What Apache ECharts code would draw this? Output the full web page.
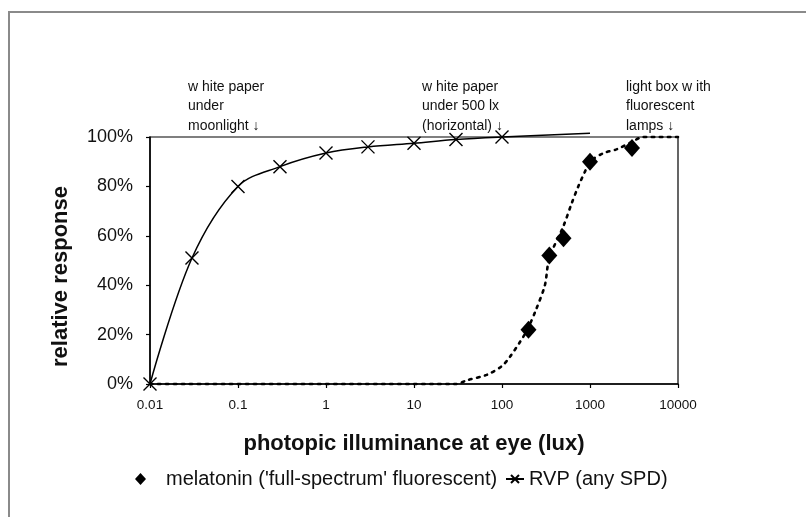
<!DOCTYPE html>
<html>
<head>
<meta charset="utf-8">
<script src="https://cdn.jsdelivr.net/npm/echarts@6/dist/echarts.min.js"></script>
<style>
html,body{margin:0;padding:0;background:#fff;}
#chart{width:806px;height:517px;}
</style>
</head>
<body>
<div id="chart"></div>
<script>
// ---- data ----
const xTickLabels = ['0.01', '0.1', '1', '10', '100', '1000', '10000'];
const yTickLabels = ['0%', '20%', '40%', '60%', '80%', '100%'];

const rvpLux = [0.01, 0.03, 0.1, 0.3, 1, 3, 10, 30, 100];
const rvpResponse = [0, 51, 80, 88, 93.5, 96, 97.5, 99, 100];
const rvpTailLux = [1000];
const rvpTailResponse = [101.5];

const melatoninLux = [200, 345, 500, 1000, 3000];
const melatoninResponse = [22, 52, 59, 90, 95.5];

const melatoninFitLux = [0.01, 30, 40, 67, 100, 123, 160, 194, 243, 307, 345, 500, 617, 736, 877, 1000, 1413, 2000, 3000, 3980, 10000];
const melatoninFitResponse = [0, 0, 1.5, 3.7, 7.3, 11, 17, 22, 30, 40, 51, 64, 73, 80, 86, 90, 93.4, 95, 98, 100, 100];

const annotations = [
  {lux: 0.01, lines: ['w hite paper', 'under', 'moonlight \u2193']},
  {lux: 10, lines: ['w hite paper', 'under 500 lx', '(horizontal) \u2193']},
  {lux: 1000, lines: ['light box w ith', 'fluorescent', 'lamps \u2193']}
];

const seriesNames = {
  melatonin: "melatonin ('full-spectrum' fluorescent)",
  rvp: 'RVP (any SPD)'
};
const xAxisTitle = 'photopic illuminance at eye (lux)';
const yAxisTitle = 'relative response';

// ---- chart ----
const FONT = 'Arial, "Liberation Sans", sans-serif';
const chart = echarts.init(document.getElementById('chart'), null, {renderer: 'canvas'});

const crossPath = 'path://M0,0L10,10M10,0L0,10';

const rvpData = rvpLux.map((x, i) => [x, rvpResponse[i]])
  .concat(rvpTailLux.map((x, i) => ({value: [x, rvpTailResponse[i]], symbol: 'none'})));

const annX = [188, 422, 626];

const option = {
  backgroundColor: '#fff',
  animation: false,
  grid: {left: 150, right: 128, top: 137, bottom: 133, show: true, borderColor: '#000', borderWidth: 1.2, backgroundColor: 'transparent'},
  xAxis: {
    type: 'log', logBase: 10, min: 0.01, max: 10000,
    name: xAxisTitle, nameLocation: 'middle', nameGap: 49,
    nameTextStyle: {fontFamily: FONT, fontSize: 22, fontWeight: 'bold', color: '#111'},
    axisLine: {show: true, onZero: false, lineStyle: {color: '#000', width: 1.5}},
    axisTick: {show: true, inside: false, length: 4, lineStyle: {color: '#000', width: 1.2}},
    axisLabel: {margin: 14, fontFamily: FONT, fontSize: 13.5, color: '#111',
      formatter: (v) => { const i = Math.round(Math.log10(v) + 2); return xTickLabels[i] !== undefined ? xTickLabels[i] : ''; }},
    splitLine: {show: false},
    minorTick: {show: false}
  },
  yAxis: {
    type: 'value', min: 0, max: 100, interval: 20,
    name: yAxisTitle, nameLocation: 'middle', nameGap: 78, nameRotate: 90,
    nameTextStyle: {fontFamily: FONT, fontSize: 22, fontWeight: 'bold', color: '#111', padding: [0, 32, 0, 0]},
    axisLine: {show: true, lineStyle: {color: '#000', width: 1.5}},
    axisTick: {show: true, inside: false, length: 4, lineStyle: {color: '#000', width: 1.2}},
    axisLabel: {margin: 17, fontFamily: FONT, fontSize: 18, color: '#111',
      formatter: (v) => yTickLabels[Math.round(v / 20)]},
    splitLine: {show: false}
  },
  legend: [
    {
      data: [{name: seriesNames.melatonin, icon: 'diamond'}], left: 130, top: 464, orient: 'horizontal',
      itemWidth: 11, itemHeight: 12, itemGap: 0,
      textStyle: {fontFamily: FONT, fontSize: 20, color: '#111', padding: [0, 0, 0, 15]}
    },
    {
      data: [seriesNames.rvp], left: 500, top: 464, orient: 'horizontal',
      itemWidth: 18, itemHeight: 10, itemGap: 0,
      textStyle: {fontFamily: FONT, fontSize: 20, color: '#111'}
    }
  ],
  graphic: [
    {type: 'rect', silent: true, z: -10, shape: {x: 9, y: 12, width: 1200, height: 1200},
      style: {fill: 'none', stroke: '#8a8a8a', lineWidth: 2}}
  ].concat(annotations.map((a, i) => ({
    type: 'text', left: annX[i], top: 77, silent: true,
    style: {text: a.lines.join('\n'), font: '14px ' + FONT, fill: '#111', lineHeight: 19.5}
  }))),
  series: [
    {
      name: 'melatonin fit', type: 'line', smooth: 0.3, showSymbol: false, symbol: 'none',
      clip: false, silent: true,
      data: melatoninFitLux.map((x, i) => [x, melatoninFitResponse[i]]),
      lineStyle: {color: '#000', width: 2.6, type: [2.5, 5.5], cap: 'round'},
      z: 2
    },
    {
      name: seriesNames.rvp, type: 'line', smooth: 0.35, clip: false,
      data: rvpData,
      symbol: crossPath, symbolSize: 13, showSymbol: true,
      itemStyle: {color: '#000', borderColor: '#000', borderWidth: 1.4, opacity: 1},
      lineStyle: {color: '#000', width: 1.5},
      z: 3
    },
    {
      name: seriesNames.melatonin, type: 'scatter', clip: false,
      data: melatoninLux.map((x, i) => [x, melatoninResponse[i]]),
      symbol: 'diamond', symbolSize: [16, 18],
      itemStyle: {color: '#000', opacity: 1},
      z: 4
    }
  ]
};
chart.setOption(option);
</script>
</body>
</html>
